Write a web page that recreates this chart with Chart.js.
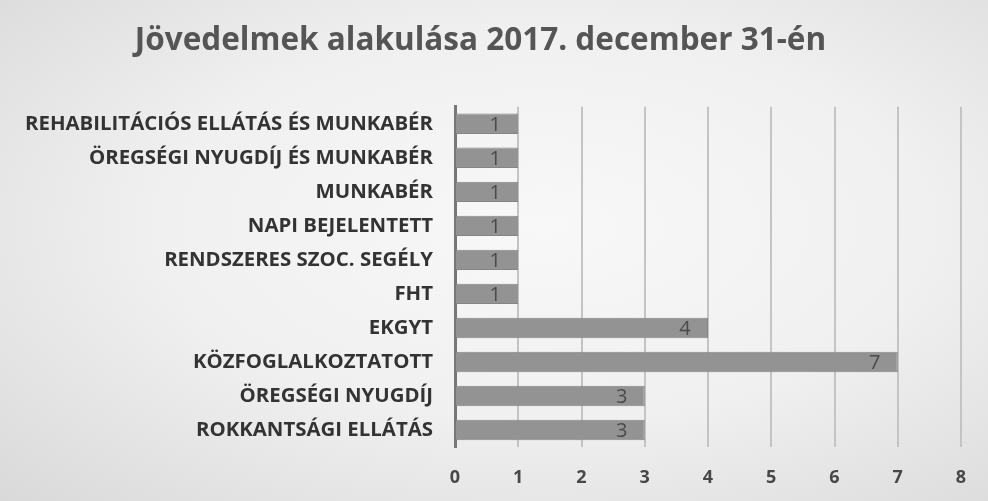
<!DOCTYPE html>
<html>
<head>
<meta charset="utf-8">
<script src="https://cdn.jsdelivr.net/npm/chart.js@4"></script>
<style>
  html, body { margin: 0; padding: 0; }
  body {
    width: 988px; height: 501px; overflow: hidden;
    background: radial-gradient(ellipse at 55% 45%, #f8f8f8 0%, #f0f0f0 50%, #d9d9d9 100%);
  }
  canvas { display: block; }
</style>
</head>
<body>
<canvas id="bar-chart" width="988" height="501"></canvas>
<script>
var titleText = "Jövedelmek alakulása 2017. december 31-én";
var categories = [
  "REHABILITÁCIÓS ELLÁTÁS ÉS MUNKABÉR",
  "ÖREGSÉGI NYUGDÍJ ÉS MUNKABÉR",
  "MUNKABÉR",
  "NAPI BEJELENTETT",
  "RENDSZERES SZOC. SEGÉLY",
  "FHT",
  "EKGYT",
  "KÖZFOGLALKOZTATOTT",
  "ÖREGSÉGI NYUGDÍJ",
  "ROKKANTSÁGI ELLÁTÁS"
];
var values = [1, 1, 1, 1, 1, 1, 4, 7, 3, 3];
var xTicks = [0, 1, 2, 3, 4, 5, 6, 7, 8];

// value written just inside the end of each bar
var barValueLabels = {
  id: 'barValueLabels',
  afterDatasetsDraw: function(chart) {
    var ctx = chart.ctx;
    var meta = chart.getDatasetMeta(0);
    ctx.save();
    ctx.fillStyle = '#4a4a4a';
    ctx.font = '20px "Open Sans"';
    ctx.textAlign = 'center';
    ctx.textBaseline = 'middle';
    meta.data.forEach(function(bar, i) {
      ctx.fillText(String(values[i]), bar.x - 23, bar.y + 1);
    });
    ctx.restore();
  }
};

window.onload = function() {
  var canvas = document.getElementById('bar-chart');
  new Chart(canvas, {
    type: 'bar',
    data: {
      labels: categories,
      datasets: [{
        data: values,
        backgroundColor: '#939393',
        borderColor: '#858585',
        borderWidth: 1,
        barPercentage: 0.6,
        categoryPercentage: 1
      }]
    },
    plugins: [barValueLabels],
    options: {
      indexAxis: 'y',
      responsive: false,
      maintainAspectRatio: false,
      animation: false,
      devicePixelRatio: 1,
      layout: { padding: { left: 0, right: 27, top: 0, bottom: 0 } },
      plugins: {
        legend: { display: false },
        tooltip: { enabled: false },
        title: {
          display: true,
          text: titleText,
          color: '#555555',
          font: { family: '"Open Sans"', size: 31.5, weight: 'bold', lineHeight: 1.2 },
          padding: { top: 22, bottom: 47 }
        }
      },
      scales: {
        x: {
          min: 0,
          max: 8,
          afterBuildTicks: function(scale) {
            scale.ticks = xTicks.map(function(v) { return { value: v }; });
          },
          afterFit: function(scale) { scale.height = 54; },
          grid: { color: '#c4c4c4', lineWidth: 2, drawTicks: false },
          border: { display: false },
          ticks: {
            color: '#484848',
            padding: 20,
            font: { family: '"Open Sans"', size: 18, weight: 'bold' }
          }
        },
        y: {
          afterFit: function(scale) { scale.width = 455; },
          grid: { display: false, drawTicks: false },
          border: { display: true, color: '#777777', width: 3 },
          ticks: {
            color: '#333333',
            padding: 22,
            font: { family: '"Open Sans"', size: 20.4, weight: 'bold' }
          }
        }
      }
    }
  });
};
</script>
</body>
</html>
